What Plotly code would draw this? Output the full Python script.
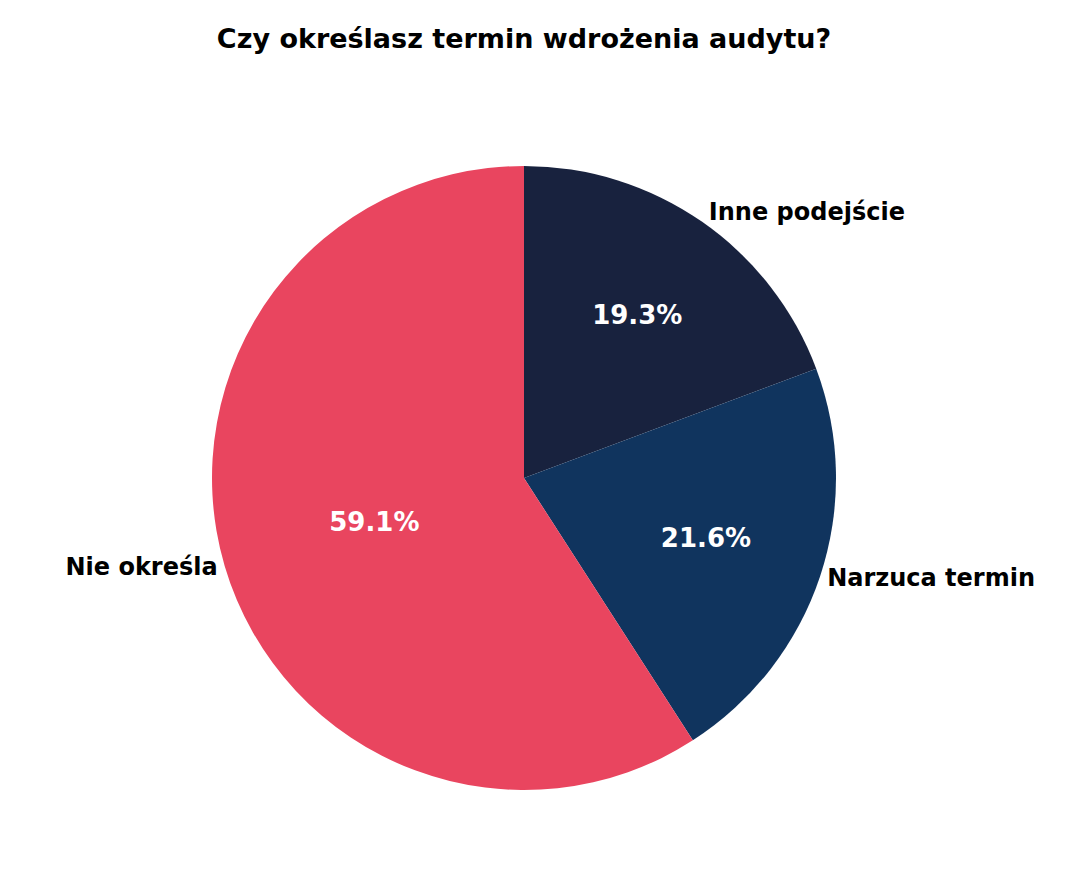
import plotly.graph_objects as go

labels = ["Inne podejście", "Narzuca termin", "Nie określa"]
values = [19.3, 21.6, 59.1]
colors = ["#18223E", "#10345E", "#E9455F"]

W, H = 1091, 875
cx, cy, r = 516, 470, 312
dom_x = [(cx - r) / W, (cx + r) / W]
dom_y = [(H - cy - r) / H, (H - cy + r) / H]

fig = go.Figure()
# percentages inside
fig.add_trace(go.Pie(
    labels=labels, values=values, sort=False, direction="clockwise", rotation=0,
    marker=dict(colors=colors, line=dict(width=0)),
    textinfo="percent", texttemplate="%{percent:.1%}", textposition="inside",
    insidetextorientation="horizontal",
    textfont=dict(family="DejaVu Sans", size=26, color="white", weight="bold"),
    domain=dict(x=dom_x, y=dom_y), showlegend=False, hoverinfo="skip",
))
# category labels outside
fig.add_trace(go.Pie(
    labels=labels, values=values, sort=False, direction="clockwise", rotation=0,
    marker=dict(colors=["rgba(0,0,0,0)"] * 3, line=dict(width=0)),
    textinfo="label", textposition="outside",
    textfont=dict(family="DejaVu Sans", size=24, color="black", weight="bold"),
    domain=dict(x=dom_x, y=dom_y), showlegend=False, hoverinfo="skip",
))

fig.update_layout(
    width=W, height=H,
    margin=dict(l=0, r=0, t=0, b=0),
    paper_bgcolor="white",
    title=dict(text="<b>Czy określasz termin wdrożenia audytu?</b>",
               x=0.473, xanchor="center", y=0.965, yanchor="middle",
               font=dict(family="DejaVu Sans", size=27, color="black")),
)

fig.write_html("out.html")
